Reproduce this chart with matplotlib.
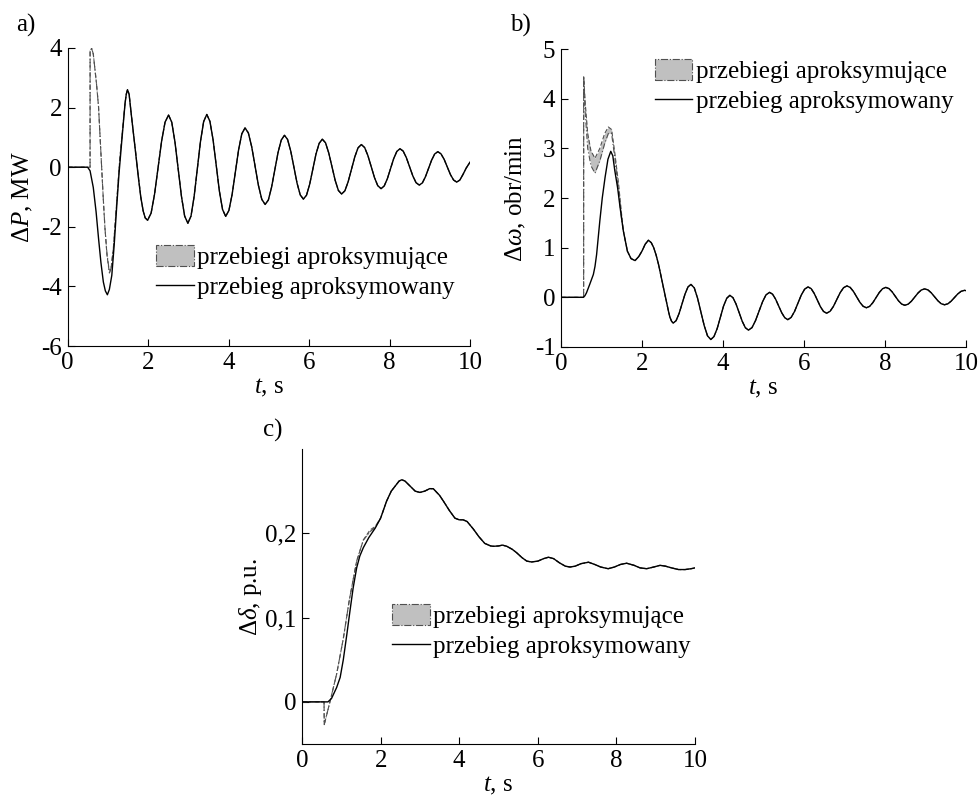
"""
Approximation of transient waveforms: dP, d-omega, d-delta (panels a, b, c).
"""
import numpy as np
import matplotlib
matplotlib.use("Agg")
import matplotlib.pyplot as plt
from matplotlib.patches import Patch
from matplotlib.lines import Line2D

plt.rcParams["font.family"] = ["Liberation Serif", "DejaVu Serif"]
plt.rcParams["mathtext.fontset"] = "custom"
plt.rcParams["mathtext.rm"] = "Liberation Serif"
plt.rcParams["mathtext.it"] = "Liberation Serif:italic"
plt.rcParams["axes.unicode_minus"] = False
plt.rcParams["font.size"] = 18

LABEL_APX = "przebiegi aproksymujące"
LABEL_REF = "przebieg aproksymowany"

# ---- panel a: dP, MW ----
a_t = np.array([
    0, 0.5, 0.56, 0.64, 0.71, 0.77, 0.83, 0.89, 0.94, 0.99, 1.04, 1.1, 1.16, 1.22, 1.28, 1.35,
    1.43, 1.46, 1.49, 1.53, 1.59, 1.67, 1.76, 1.82, 1.88, 1.93, 1.99,
    2.077, 2.163, 2.25, 2.337, 2.423, 2.51, 2.59, 2.67, 2.75, 2.83, 2.91, 2.99,
    3.068, 3.147, 3.225, 3.303, 3.382, 3.46, 3.538, 3.617, 3.695, 3.773, 3.852, 3.93,
    4.01, 4.09, 4.17, 4.25, 4.33, 4.41, 4.493, 4.577, 4.66, 4.743, 4.827, 4.91,
    4.99, 5.07, 5.15, 5.23, 5.31, 5.39, 5.468, 5.547, 5.625, 5.703, 5.782, 5.86,
    5.938, 6.017, 6.095, 6.173, 6.252, 6.33, 6.41, 6.49, 6.57, 6.65, 6.73, 6.81,
    6.892, 6.973, 7.055, 7.137, 7.218, 7.3, 7.382, 7.463, 7.545, 7.627, 7.708, 7.79,
    7.868, 7.947, 8.025, 8.103, 8.182, 8.26, 8.34, 8.42, 8.5, 8.58, 8.66, 8.74,
    8.817, 8.893, 8.97, 9.047, 9.123, 9.2, 9.278, 9.357, 9.435, 9.513, 9.592, 9.67,
    9.748, 9.827, 9.905, 10.0])
a_v = np.array([
    0, 0, -0.12, -0.68, -1.5, -2.38, -3.2, -3.85, -4.15, -4.28, -4.1, -3.63, -2.6, -1.36, -0.2, 0.91,
    2.15, 2.45, 2.6, 2.45, 1.7, 0.75, -0.34, -1.0, -1.47, -1.7, -1.78,
    -1.54, -0.90, -0.015, 0.87, 1.51, 1.75, 1.51, 0.84, -0.065, -0.97, -1.64, -1.88,
    -1.64, -0.97, -0.055, 0.86, 1.53, 1.77, 1.54, 0.915, 0.06, -0.80, -1.42, -1.65,
    -1.45, -0.91, -0.165, 0.58, 1.12, 1.32, 1.15, 0.68, 0.035, -0.61, -1.08, -1.25,
    -1.10, -0.67, -0.09, 0.49, 0.91, 1.07, 0.93, 0.535, 0.0, -0.535, -0.93, -1.07,
    -0.94, -0.57, -0.065, 0.44, 0.80, 0.94, 0.82, 0.48, 0.02, -0.44, -0.78, -0.9,
    -0.79, -0.485, -0.07, 0.345, 0.65, 0.76, 0.66, 0.39, 0.02, -0.35, -0.62, -0.72,
    -0.63, -0.385, -0.05, 0.285, 0.53, 0.62, 0.54, 0.315, 0.01, -0.295, -0.52, -0.6,
    -0.525, -0.32, -0.04, 0.24, 0.445, 0.52, 0.45, 0.265, 0.01, -0.245, -0.43, -0.5,
    -0.43, -0.24, -0.03, 0.17])
# approximating curves, start segment (afterwards they follow the reference)
a_apx_t = np.array([0, 0.56, 0.561, 0.6, 0.64, 0.68, 0.72, 0.77, 0.81, 0.85, 0.89, 0.93, 0.98,
                    1.04, 1.08, 1.14, 1.2, 1.26, 1.3, 1.35, 1.43])
a_apx_lo = np.array([0, 0, 3.9, 3.99, 3.8, 3.29, 2.8, 2.04, 1.0, -0.11, -1.1, -2.04, -2.9,
                     -3.51, -3.4, -2.72, -1.6, -0.45, 0.3, 1.02, 2.15])
a_apx_hi = np.array([0, 0, 3.9, 3.99, 3.8, 3.29, 2.8, 2.04, 1.0, -0.11, -1.1, -2.04, -2.95,
                     -3.55, -3.42, -2.70, -1.6, -0.45, 0.3, 1.02, 2.15])
a_join = 1.46

# ---- panel b: d-omega, obr/min ----
b_t = np.array([
    0, 0.55, 0.59, 0.63, 0.71, 0.8, 0.84, 0.88, 0.92, 0.96, 1.02, 1.09, 1.16, 1.23, 1.28, 1.33,
    1.4, 1.46, 1.54, 1.64, 1.73, 1.83, 1.92, 2.0, 2.08, 2.16, 2.23, 2.29, 2.35, 2.41, 2.47,
    2.53, 2.58, 2.62, 2.66, 2.69, 2.73, 2.77,
    2.843, 2.917, 2.99, 3.063, 3.137, 3.21, 3.292, 3.373, 3.455, 3.537, 3.618, 3.7,
    3.778, 3.857, 3.935, 4.013, 4.092, 4.17, 4.247, 4.323, 4.4, 4.477, 4.553, 4.63,
    4.717, 4.803, 4.89, 4.977, 5.063, 5.15, 5.225, 5.3, 5.375, 5.45, 5.525, 5.6,
    5.683, 5.767, 5.85, 5.933, 6.017, 6.1, 6.177, 6.253, 6.33, 6.407, 6.483, 6.56,
    6.643, 6.727, 6.81, 6.893, 6.977, 7.06, 7.14, 7.22, 7.3, 7.38, 7.46, 7.54,
    7.62, 7.7, 7.78, 7.86, 7.94, 8.02, 8.098, 8.177, 8.255, 8.333, 8.412, 8.49,
    8.572, 8.653, 8.735, 8.817, 8.898, 8.98, 9.062, 9.143, 9.225, 9.307, 9.388, 9.47,
    9.552, 9.633, 9.715, 9.797, 9.878, 9.96, 10.0])
b_v = np.array([
    0, 0, 0.03, 0.09, 0.26, 0.46, 0.62, 0.86, 1.2, 1.54, 2.0, 2.42, 2.78, 2.94, 2.85, 2.55,
    2.2, 1.81, 1.34, 0.93, 0.78, 0.74, 0.82, 0.93, 1.07, 1.15, 1.1, 1.0, 0.85, 0.66, 0.43,
    0.19, 0.0, -0.15, -0.3, -0.4, -0.48, -0.52,
    -0.47, -0.325, -0.13, 0.065, 0.21, 0.26, 0.19, -0.018, -0.295, -0.57, -0.775, -0.85,
    -0.79, -0.63, -0.405, -0.18, -0.02, 0.04, -0.007, -0.135, -0.31, -0.485, -0.613, -0.66,
    -0.61, -0.47, -0.28, -0.09, 0.05, 0.1, 0.063, -0.0375, -0.175, -0.31, -0.41, -0.45,
    -0.405, -0.285, -0.12, 0.045, 0.165, 0.21, 0.175, 0.078, -0.055, -0.19, -0.285, -0.32,
    -0.283, -0.183, -0.045, 0.093, 0.193, 0.23, 0.2, 0.12, 0.01, -0.1, -0.18, -0.21,
    -0.183, -0.108, -0.005, 0.098, 0.173, 0.2, 0.176, 0.11, 0.02, -0.07, -0.136, -0.16,
    -0.138, -0.078, 0.005, 0.088, 0.148, 0.17, 0.149, 0.09, 0.01, -0.07, -0.129, -0.15,
    -0.131, -0.078, -0.005, 0.068, 0.12, 0.14, 0.135])
b_apx_t = np.array([0, 0.56, 0.561, 0.6, 0.66, 0.74, 0.84, 0.96, 1.08, 1.17, 1.25, 1.33, 1.42, 1.5])
b_apx_hi = np.array([0, 0, 4.44, 3.9, 3.3, 2.95, 2.8, 3.0, 3.3, 3.43, 3.38, 2.9, 2.3, 1.65])
b_apx_lo = np.array([0, 0, 4.44, 3.7, 3.0, 2.65, 2.5, 2.75, 3.1, 3.3, 3.3, 2.8, 2.15, 1.55])
b_join = 1.54

# ---- panel c: d-delta, p.u. ----
c_t = np.array([
    0, 0.66, 0.75, 0.88, 0.97, 1.05, 1.14, 1.22, 1.3, 1.39, 1.47, 1.56, 1.7, 1.86, 2.0,
    2.15, 2.27, 2.37, 2.47, 2.54, 2.62, 2.75, 2.88, 3.0, 3.12, 3.25, 3.34, 3.5, 3.6, 3.75,
    3.89, 4.0, 4.1, 4.2, 4.36, 4.5, 4.65, 4.8, 4.87, 5.0, 5.1, 5.21, 5.35, 5.46, 5.6,
    5.72, 5.84, 6.0, 6.15, 6.27, 6.4, 6.55, 6.7, 6.82, 6.95, 7.1, 7.29, 7.45, 7.6, 7.79,
    7.95, 8.1, 8.26, 8.45, 8.6, 8.77, 8.95, 9.11, 9.25, 9.4, 9.58, 9.75, 9.9, 10.0])
c_v = np.array([
    0, 0, 0.004, 0.017, 0.029, 0.05, 0.08, 0.108, 0.135, 0.159, 0.173, 0.183, 0.195, 0.206, 0.218,
    0.238, 0.25, 0.256, 0.262, 0.2635, 0.262, 0.256, 0.25, 0.2485, 0.25, 0.253, 0.2529, 0.245, 0.238, 0.227,
    0.218, 0.216, 0.216, 0.214, 0.205, 0.196, 0.188, 0.185, 0.1846, 0.185, 0.186, 0.1846, 0.181, 0.177, 0.171,
    0.167, 0.166, 0.167, 0.17, 0.1716, 0.17, 0.165, 0.161, 0.16, 0.161, 0.164, 0.1657, 0.163, 0.16, 0.158,
    0.16, 0.163, 0.1645, 0.162, 0.159, 0.158, 0.16, 0.162, 0.161, 0.159, 0.157, 0.157, 0.158, 0.159])
c_apx_t = np.array([0, 0.56, 0.565, 0.71, 0.88, 1.05, 1.2, 1.39, 1.56, 1.73, 1.86])
c_apx_lo = np.array([0, 0, -0.027, 0.0, 0.033, 0.075, 0.12, 0.167, 0.192, 0.202, 0.207])
c_apx_hi = np.array([0, 0, -0.027, 0.0, 0.033, 0.075, 0.12, 0.167, 0.192, 0.204, 0.208])
c_join = 2.0

x_ticks = [0, 2, 4, 6, 8, 10]


def draw_panel(ax, t, v, apx_t, apx_lo, apx_hi, join, ylim, yticks, yticklabels, ylabel, leg_anchor, ylab_x):
    band_t = np.concatenate([apx_t, t[t >= join]])
    band_lo = np.concatenate([apx_lo, v[t >= join]])
    band_hi = np.concatenate([apx_hi, v[t >= join]])
    ax.fill_between(band_t, band_lo, band_hi, color="#c0c0c0", lw=0)
    ax.plot(band_t, band_hi, color="#505050", lw=0.8, ls=(0, (4, 2)))
    ax.plot(band_t, band_lo, color="#505050", lw=0.8, ls=(0, (5, 2, 1, 2)))
    ax.plot(t, v, color="black", lw=1.0)

    ax.set_xlim(0, 10)
    ax.set_ylim(*ylim)
    ax.set_xticks(x_ticks)
    ax.set_yticks(yticks)
    ax.set_yticklabels(yticklabels)
    for side in ("top", "right"):
        ax.spines[side].set_visible(False)
    for side in ("left", "bottom"):
        ax.spines[side].set_linewidth(0.8)
    ax.tick_params(direction="in", length=5, width=0.8, labelsize=18, pad=4)

    ax.set_xlabel("$t$, s")
    ax.xaxis.set_label_coords(0.5, -0.141)
    ax.xaxis.label.set_va("center")
    ax.set_ylabel(ylabel)
    ax.yaxis.set_label_coords(ylab_x, 0.5)
    ax.yaxis.label.set_va("center")

    handles = [Patch(facecolor="#c0c0c0", edgecolor="#505050", linestyle="-.", lw=0.8),
               Line2D([], [], color="black", lw=1.0)]
    ax.legend(handles, [LABEL_APX, LABEL_REF], loc="upper left", bbox_to_anchor=leg_anchor,
              frameon=False, borderpad=0, borderaxespad=0, handlelength=1.5, handleheight=0.9,
              handletextpad=0.15, labelspacing=0.25, fontsize=18)


fig = plt.figure(figsize=(9.8, 7.96), dpi=100)
ax_a = fig.add_axes([0.0689, 0.5653, 0.4107, 0.3744])
ax_b = fig.add_axes([0.5724, 0.5641, 0.4133, 0.3743])
ax_c = fig.add_axes([0.3082, 0.0653, 0.4010, 0.3706])

draw_panel(ax_a, a_t, a_v, a_apx_t, a_apx_lo, a_apx_hi, a_join, (-6, 4),
           [-6, -4, -2, 0, 2, 4], ["-6", "-4", "-2", "0", "2", "4"],
           r"$\Delta P$, MW", (0.22, 0.339), -0.11)
draw_panel(ax_b, b_t, b_v, b_apx_t, b_apx_lo, b_apx_hi, b_join, (-1, 5),
           [-1, 0, 1, 2, 3, 4, 5], ["-1", "0", "1", "2", "3", "4", "5"],
           r"$\Delta\omega$, obr/min", (0.232, 0.966), -0.111)
draw_panel(ax_c, c_t, c_v, c_apx_t, c_apx_lo, c_apx_hi, c_join, (-0.05, 0.3),
           [0, 0.1, 0.2], ["0", "0,1", "0,2"],
           r"$\Delta\delta$, p.u.", (0.229, 0.4746), -0.13)

fig.text(26 / 980, 1 - 25 / 796, "a)", ha="center", va="center", fontsize=18)
fig.text(520 / 980, 1 - 25 / 796, "b)", ha="center", va="center", fontsize=18)
fig.text(273 / 980, 1 - 430 / 796, "c)", ha="center", va="center", fontsize=18)

fig.savefig("out.png", dpi=100)
